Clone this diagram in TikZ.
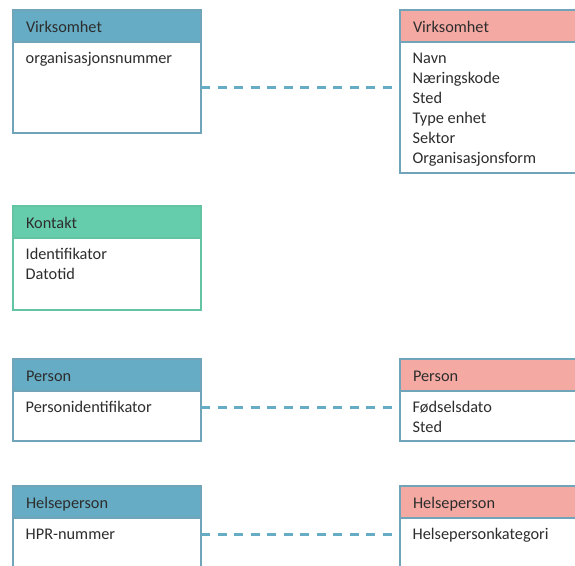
\documentclass[tikz,border=0pt]{standalone}
\usepackage{fontspec}
\setmainfont{Carlito}
\usepackage{xcolor}
\usetikzlibrary{positioning,calc}

\definecolor{hdrblue}{RGB}{101,172,196}
\definecolor{hdrpink}{RGB}{244,169,163}
\definecolor{hdrgreen}{RGB}{102,205,172}
\definecolor{edgeblue}{RGB}{112,164,184}
\definecolor{edgegreen}{RGB}{98,196,162}
\definecolor{txtgrey}{RGB}{45,45,45}

\newcommand{\fields}[1]{\begin{tabular}[t]{@{}l@{}}#1\end{tabular}}

\begin{document}
\begin{tikzpicture}[x=1pt, y=-1pt,
    font=\fontsize{16.3}{20}\selectfont, text=txtgrey,
    hdr/.style={rectangle, draw=edgeblue, line width=2pt, fill=hdrblue, minimum width=188pt, minimum height=32pt, outer sep=0pt,
        text width=162pt, inner xsep=13pt, inner ysep=0pt, align=left, text height=14.5pt, text depth=1.5pt, anchor=north west},
    body/.style={rectangle, draw=edgeblue, line width=2pt, fill=white, minimum width=188pt, inner sep=0pt, outer sep=0pt, anchor=north},
    flist/.style={anchor=base west, inner sep=0pt, xshift=12.5pt, yshift=-21.5pt},
    link/.style={draw=hdrblue, line width=2.5pt, dash pattern=on 9pt off 7.5pt}]

    \useasboundingbox (0,0) rectangle (575,565);
    \clip (0,0) rectangle (575,565);

    % left column
    \node[hdr] (vl) at (13,10) {Virksomhet};
    \node[body, minimum height=91pt, below=0pt of vl] (vlb) {};
    \node[flist] (vlf) at (vlb.north west) {\fields{organisasjonsnummer}};

    \node[hdr, fill=hdrgreen, draw=edgegreen] (kl) at (13,206) {Kontakt};
    \node[body, draw=edgegreen, minimum height=72pt, below=0pt of kl] (klb) {};
    \node[flist] (klf) at (klb.north west) {\fields{Identifikator\\Datotid}};

    \node[hdr] (pl) at (13,359) {Person};
    \node[body, minimum height=50pt, below=0pt of pl] (plb) {};
    \node[flist] (plf) at (plb.north west) {\fields{Personidentifikator}};

    \node[hdr] (hl) at (13,486) {Helseperson};
    \node[body, minimum height=70pt, below=0pt of hl] (hlb) {};
    \node[flist] (hlf) at (hlb.north west) {\fields{HPR-nummer}};

    % right column
    \node[hdr, fill=hdrpink] (vr) at (400,10) {Virksomhet};
    \node[body, minimum height=131pt, below=0pt of vr] (vrb) {};
    \node[flist] (vrf) at (vrb.north west) {\fields{Navn\\Næringskode\\Sted\\Type enhet\\Sektor\\Organisasjonsform}};

    \node[hdr, fill=hdrpink] (pr) at (400,359) {Person};
    \node[body, minimum height=50pt, below=0pt of pr] (prb) {};
    \node[flist] (prf) at (prb.north west) {\fields{Fødselsdato\\Sted}};

    \node[hdr, fill=hdrpink] (hr) at (400,486) {Helseperson};
    \node[body, minimum height=70pt, below=0pt of hr] (hrb) {};
    \node[flist] (hrf) at (hrb.north west) {\fields{Helsepersonkategori}};

    % links
    \draw[link] (vlb.east) -- (vlb.east -| vrb.west);
    \draw[link] ($(plb.east |- plf.base)+(0,-5)$) -- ($(prb.west |- plf.base)+(0,-5)$);
    \draw[link] ($(hlb.east |- hlf.base)+(0,-5)$) -- ($(hrb.west |- hlf.base)+(0,-5)$);

\end{tikzpicture}
\end{document}
